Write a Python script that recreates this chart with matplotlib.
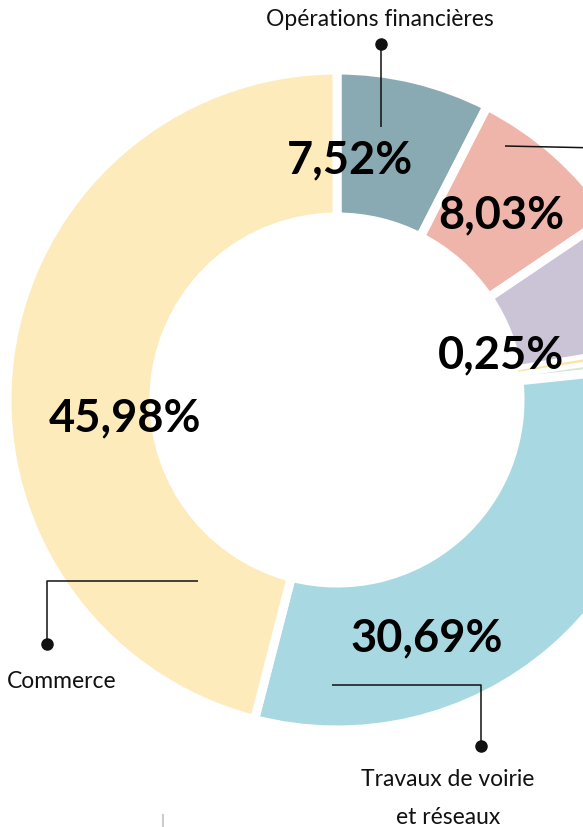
import matplotlib.pyplot as plt
import numpy as np

# données (parts en %)
categories = ["Opérations financières", "Autres", "Divers", "Petit poste 1",
              "Petit poste 2", "Travaux de voirie\net réseaux", "Commerce"]
values = [7.52, 8.03, 6.80, 0.25, 0.73, 30.69, 45.98]
value_labels = ["7,52%", "8,03%", None, "0,25%", None, "30,69%", "45,98%"]
colors = ["#8aaab3", "#efb5aa", "#cac4d6", "#fde4a6", "#d3e8cf", "#a8d9e2", "#feebbb"]

W, H = 583, 827
cx, cy, R, r_in = 337, 400, 330, 183   # centre et rayons en pixels


def px(x, y):
    # pixels -> coordonnées du graphique
    return (x - cx) / R, (cy - y) / R


fig = plt.figure(figsize=(W / 100, H / 100), dpi=100)
ax = fig.add_axes([0, 0, 1, 1])

wedges, _ = ax.pie(values, colors=colors, startangle=90, counterclock=False,
                   radius=1.0,
                   wedgeprops=dict(width=1 - r_in / R, edgecolor="white", linewidth=6.5))
# la toute petite part reste visible
wedges[3].set_linewidth(1.0)
wedges[3].set_zorder(3)

ax.set_aspect("auto")
ax.set_xlim(-cx / R, (W - cx) / R)
ax.set_ylim(-(H - cy) / R, cy / R)
ax.axis("off")

num_font = dict(family=["Lato", "DejaVu Sans"], weight="bold", fontsize=32.5,
                ha="center", va="center", color="#000000", zorder=5)
label_pos = [(350, 160), (501, 215), None, (501, 355), None, (427, 638), (125, 418)]
for lab, pos in zip(value_labels, label_pos):
    if lab:
        ax.text(*px(*pos), lab, **num_font)

txt_font = dict(family=["Lato", "DejaVu Sans"], weight="normal", fontsize=16.5,
                color="#111111", zorder=5)
lk = dict(color="#111111", lw=1.1, zorder=4, solid_capstyle="butt")
dot = dict(marker="o", markersize=8, color="#111111", zorder=4)

# Opérations financières
ax.text(*px(380, 20), categories[0], ha="center", va="center", **txt_font)
x0, y0 = px(381, 44)
x1, y1 = px(381, 127)
ax.plot([x0, x1], [y0, y1], **lk)
ax.plot(x0, y0, **dot)

# trait vers la part saumon (étiquette hors cadre)
x0, y0 = px(505, 146)
x1, y1 = px(600, 148)
ax.plot([x0, x1], [y0, y1], **lk)

# Commerce
xa, ya = px(198, 581)
xb, yb = px(47, 581)
xc, yc = px(47, 644)
ax.plot([xa, xb, xc], [ya, yb, yc], **lk)
ax.plot(xc, yc, **dot)
ax.text(*px(7, 681), categories[6], ha="left", va="center", **txt_font)

# Travaux de voirie et réseaux
xa, ya = px(332, 685)
xb, yb = px(481, 685)
xc, yc = px(481, 746)
ax.plot([xa, xb, xc], [ya, yb, yc], **lk)
ax.plot(xc, yc, **dot)
ax.text(*px(448, 780), "Travaux de voirie", ha="center", va="center", **txt_font)
ax.text(*px(448, 818), "et réseaux", ha="center", va="center", **txt_font)

# petit repère gris en bas
xg0, yg0 = px(163, 815)
xg1, yg1 = px(163, 830)
ax.plot([xg0, xg1], [yg0, yg1], color="#cccccc", lw=1.5)

fig.savefig("out.png", dpi=100)
